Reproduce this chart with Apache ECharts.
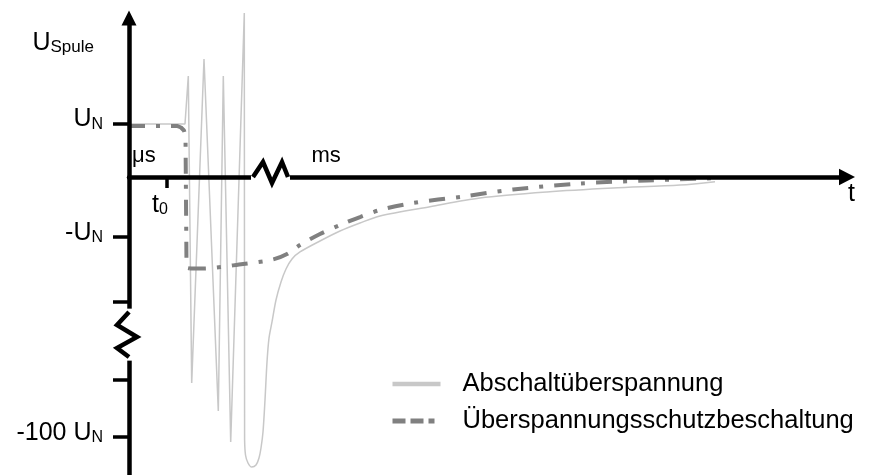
<!DOCTYPE html>
<html><head><meta charset="utf-8">
<script src="https://cdn.jsdelivr.net/npm/echarts@6/dist/echarts.min.js"></script>
<style>html,body{margin:0;padding:0;background:#fff}#c{width:872px;height:475px}</style>
</head><body><div id="c"></div>
<script>
// Schematic: x = time (arbitrary units), y = coil voltage (approx. multiples of U_N, broken scale)
const yTickValues = [0.945, -1.057, -2.207, -3.581, -4.596];
const yTickLabels = [['U', 'N'], ['-U', 'N'], ['', ''], ['', ''], ['-100 U', 'N']];
const t0Value = 3.77;
const seriesNames = ['Abschaltüberspannung', 'Überspannungsschutzbeschaltung'];
const abschaltOsc = [[0,0.938],[5.6,0.938],[5.93,1.788],[6.27,-3.646],[7.5,2.088],[8.93,-4.142],[9.43,1.788],[10.17,-4.690],[11.53,2.903],[11.56,-4.655]];
const abschaltTail = [[11.56,-4.655],[11.65,-4.920],[11.9,-5.062],[12.27,-5.133],[12.7,-5.097],[13.0,-4.973],[13.2,-4.796],[13.4,-4.513],[13.6,-3.947],[13.8,-3.274],[14.0,-2.850],[14.3,-2.566],[14.7,-2.177],[15.2,-1.858],[15.7,-1.628],[16.3,-1.451],[17.1,-1.327],[19.1,-1.133],[21.1,-0.956],[23.1,-0.814],[25.1,-0.690],[30.1,-0.526],[35.1,-0.372],[41.8,-0.265],[48.4,-0.195],[55.1,-0.142],[58.6,-0.083]];
const schutzStep = [[0,0.903],[4.8,0.903],[5.2,0.876],[5.5,0.823],[5.65,0.726],[5.7,-0.407],[5.75,-1.558],[5.85,-1.611],[6.1,-1.619]];
const schutzTail = [[6.1,-1.619],[7.4,-1.619],[11.4,-1.540],[14.4,-1.460],[15.8,-1.363],[17.1,-1.204],[19.1,-1.009],[21.1,-0.850],[23.1,-0.708],[25.1,-0.584],[28.4,-0.460],[33.4,-0.345],[38.4,-0.221],[45.1,-0.115],[51.8,-0.062],[58.4,-0.023]];
const yBreakCover = [[0,-2.33],[0,-3.25]];
const yBreak = [[0,-2.389],[-1.2,-2.619],[0.8,-2.832],[-1.2,-3.027],[0,-3.186]];
const xBreakCover = [[12.2,0],[16.1,0]];
const xBreak = [[12.4,0],[13.4,0.265],[14.3,-0.106],[15.3,0.265],[15.9,0]];
const annotations = [[0.3, 0.17, 'μs'], [18.25, 0.17, 'ms'], [2.3, -0.722, 't0']];

const FONT = 'Liberation Sans, Arial, sans-serif';
const chart = echarts.init(document.getElementById('c'), null, {renderer: 'canvas'});
function rich(big, small) {
  return {
    a: {fontSize: big, fontFamily: FONT, color: '#000', verticalAlign: 'bottom'},
    b: {fontSize: small, fontFamily: FONT, color: '#000', verticalAlign: 'bottom'}
  };
}
function breakItem(cover, zig) {
  return (params, api) => ({
    type: 'group',
    children: [
      {type: 'polyline', shape: {points: cover.map(p => api.coord(p))},
       style: {stroke: '#fff', lineWidth: 9, fill: null}},
      {type: 'polyline', shape: {points: zig.map(p => api.coord(p))},
       style: {stroke: '#000', lineWidth: 4.5, fill: null, lineJoin: 'miter'}}
    ]
  });
}
const option = {
  animation: false,
  backgroundColor: '#fff',
  grid: {left: 129, right: 25, top: 18, bottom: 0, outerBoundsMode: 'none', containLabel: false},
  legend: {
    orient: 'vertical', left: 390, top: 369, padding: 0, itemGap: 7,
    itemWidth: 48, itemHeight: 14,
    textStyle: {fontSize: 25.5, fontFamily: FONT, color: '#000', lineHeight: 30, padding: [0, 0, 0, 17]},
    data: [
      {name: seriesNames[0], itemStyle: {opacity: 0}, lineStyle: {color: '#c8c8c8', width: 4.5, type: 'solid'}},
      {name: seriesNames[1], itemStyle: {opacity: 0}, lineStyle: {color: '#808080', width: 5, type: [13, 5, 13, 5, 6, 40]}}
    ]
  },
  xAxis: {
    type: 'value', min: 0, max: 71.8, z: 5,
    axisLine: {show: true, onZero: true, lineStyle: {color: '#000', width: 4.5}, symbol: ['none', 'triangle'], symbolSize: [16.7, 16]},
    splitLine: {show: false},
    axisTick: {show: true, customValues: [t0Value], length: 11, lineStyle: {color: '#000', width: 3.5}},
    axisLabel: {show: false},
    name: 't', nameLocation: 'end', nameGap: 1,
    nameTextStyle: {fontSize: 25, fontFamily: FONT, color: '#000', align: 'left', verticalAlign: 'top', padding: [5, 0, 0, 0]}
  },
  yAxis: {
    type: 'value', min: -5.274, max: 2.814, z: 5,
    axisLine: {show: true, lineStyle: {color: '#000', width: 4.5}, symbol: ['none', 'triangle'], symbolSize: [15, 15]},
    splitLine: {show: false},
    axisTick: {show: true, customValues: yTickValues, length: 16, lineStyle: {color: '#000', width: 3.5}},
    axisLabel: {
      show: true, customValues: yTickValues, margin: 26, padding: [0, 0, 8, 0],
      formatter: (v) => {
        let best = 0;
        yTickValues.forEach((t, i) => { if (Math.abs(t - v) < Math.abs(yTickValues[best] - v)) best = i; });
        const l = yTickLabels[best];
        return l[0] ? '{a|' + l[0] + '}{b|' + l[1] + '}' : '';
      },
      rich: rich(25, 16)
    },
    name: '{a|U}{b|Spule}', nameLocation: 'end', nameGap: -13,
    nameTextStyle: {align: 'right', verticalAlign: 'top', padding: [0, 35, 0, 0], rich: rich(25, 17)}
  },
  series: [
    {name: seriesNames[0], type: 'line', data: abschaltOsc, symbol: 'none', clip: false, z: 2,
     lineStyle: {color: '#c8c8c8', width: 1.5}, itemStyle: {color: '#c8c8c8'}},
    {name: seriesNames[0], type: 'line', data: abschaltTail, symbol: 'none', clip: false, z: 2, smooth: 0.3,
     lineStyle: {color: '#c8c8c8', width: 1.5}, itemStyle: {color: '#c8c8c8'}},
    {name: seriesNames[1], type: 'line', data: schutzStep, symbol: 'none', clip: false, z: 3,
     lineStyle: {color: '#808080', width: 4, type: [16, 11, 4, 11]}, itemStyle: {color: '#808080'}},
    {name: seriesNames[1], type: 'line', data: schutzTail, symbol: 'none', clip: false, z: 3, smooth: 0.3,
     lineStyle: {color: '#808080', width: 4, type: [16, 11, 4, 11]}, itemStyle: {color: '#808080'}},
    {type: 'custom', data: [0], z: 7, silent: true, clip: false, renderItem: breakItem(yBreakCover, yBreak)},
    {type: 'custom', data: [0], z: 7, silent: true, clip: false, renderItem: breakItem(xBreakCover, xBreak)},
    {type: 'scatter', data: annotations, symbolSize: 0, z: 8, silent: true,
     itemStyle: {opacity: 1, color: '#000'},
     label: {show: true, position: [0, 0], align: 'left', verticalAlign: 'bottom',
       formatter: (p) => p.data[2] === 't0' ? '{a|t}{b|0}' : p.data[2],
       fontSize: 22, fontFamily: FONT, color: '#000', opacity: 1, textBorderWidth: 0, rich: rich(25, 16)}}
  ]
};
chart.setOption(option);
</script></body></html>
